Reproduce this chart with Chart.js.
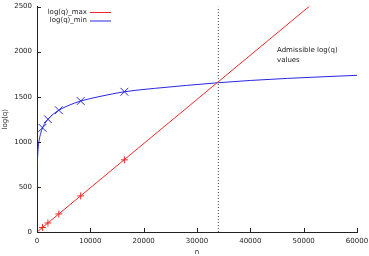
<!DOCTYPE html>
<html>
<head>
<meta charset="utf-8">
<script src="https://cdn.jsdelivr.net/npm/chart.js@4.4.1/dist/chart.umd.min.js"></script>
<style>
  html, body { margin: 0; padding: 0; background: #fff; }
  #wrap { width: 369px; height: 256px; }
</style>
</head>
<body>
<div id="wrap"><canvas id="qChart" width="369" height="256"></canvas></div>
<script>
// marker positions (powers of two)
const markerN = [1024, 2048, 4096, 8192, 16384];
const markerMax = [50, 100, 200, 400, 800];
const markerMin = [1155, 1250, 1350, 1452, 1555];

// log(q)_max straight line, runs off the top of the plot
const maxLineN = [0, 60000];
const maxLineQ = [0, 2940];

// log(q)_min curve
const minCurveN = [10, 30, 60, 100, 200, 400, 700, 1024, 1500, 2048, 3000, 4096, 6000, 8192, 12000, 16384, 22000, 28000, 34000, 40000, 47000, 54000, 60000];
const minCurveQ = [500, 650, 740, 815, 915, 1015, 1095, 1155, 1205, 1250, 1305, 1350, 1405, 1452, 1505, 1555, 1592, 1625, 1655, 1680, 1703, 1722, 1737];

// dotted bound
const boundN = [34000, 34000];
const boundQ = [0, 2500];

const xTicks = [0, 10000, 20000, 30000, 40000, 50000, 60000];
const yTicks = [0, 500, 1000, 1500, 2000, 2500];

const RED = 'rgb(238,40,40)';
const BLUE = 'rgb(40,40,225)';
const TEXT = '#222';
const FONT = "'DejaVu Sans', sans-serif";

function pairs(xs, ys) {
    return xs.map((x, i) => ({ x: x, y: ys[i] }));
}

// gnuplot style legend: text right aligned, line sample on the right
const keyPlugin = {
    id: 'gnuKey',
    afterDraw(chart) {
        const ctx = chart.ctx;
        ctx.save();
        ctx.font = '7px ' + FONT;
        ctx.textBaseline = 'middle';
        ctx.textAlign = 'right';
        let row = 0;
        chart.data.datasets.forEach(ds => {
            if (!ds.inKey) return;
            const y = 12 + row * 8.5;
            ctx.fillStyle = TEXT;
            ctx.fillText(ds.label, 87, y);
            ctx.strokeStyle = ds.borderColor;
            ctx.lineWidth = 1;
            ctx.beginPath();
            ctx.moveTo(90, y + 0.5);
            ctx.lineTo(111, y + 0.5);
            ctx.stroke();
            row++;
        });
        // label for the admissible region
        ctx.textAlign = 'left';
        ctx.fillStyle = TEXT;
        ctx.fillText('Admissible log(q)', 277, 50);
        ctx.fillText('values', 277, 60);
        ctx.restore();
    }
};

// inward tick marks
const tickPlugin = {
    id: 'inTicks',
    afterDatasetsDraw(chart) {
        const ctx = chart.ctx;
        const xs = chart.scales.x, ys = chart.scales.y;
        const area = chart.chartArea;
        ctx.save();
        ctx.strokeStyle = TEXT;
        ctx.lineWidth = 1;
        ctx.beginPath();
        xTicks.forEach(v => {
            const px = Math.round(xs.getPixelForValue(v)) + 0.5;
            ctx.moveTo(px, area.bottom);
            ctx.lineTo(px, area.bottom - 4);
        });
        yTicks.forEach(v => {
            const py = Math.round(ys.getPixelForValue(v)) + 0.5;
            ctx.moveTo(area.left, py);
            ctx.lineTo(area.left + 4, py);
        });
        ctx.stroke();
        ctx.restore();
    }
};

const ctx = document.getElementById('qChart').getContext('2d');
const chart = new Chart(ctx, {
    type: 'scatter',
    data: {
        datasets: [
            {
                label: 'log(q)_max',
                inKey: true,
                data: pairs(maxLineN, maxLineQ),
                showLine: true,
                borderColor: RED,
                borderWidth: 1,
                pointRadius: 0
            },
            {
                label: 'log(q)_min',
                inKey: true,
                data: pairs(minCurveN, minCurveQ),
                showLine: true,
                borderColor: BLUE,
                borderWidth: 1,
                pointRadius: 0,
                cubicInterpolationMode: 'monotone'
            },
            {
                label: 'max points',
                data: pairs(markerN, markerMax),
                pointStyle: 'cross',
                pointRadius: 3.5,
                borderColor: RED,
                borderWidth: 1
            },
            {
                label: 'min points',
                data: pairs(markerN, markerMin),
                pointStyle: 'crossRot',
                pointRadius: 5.5,
                borderColor: BLUE,
                borderWidth: 1
            },
            {
                label: 'bound',
                data: pairs(boundN, boundQ),
                showLine: true,
                borderColor: '#444',
                borderWidth: 1,
                borderDash: [1, 2],
                pointRadius: 0
            }
        ]
    },
    options: {
        responsive: false,
        animation: false,
        layout: { padding: { top: 5, right: 12, left: 0, bottom: 0 } },
        plugins: {
            legend: { display: false },
            tooltip: { enabled: false }
        },
        scales: {
            x: {
                type: 'linear',
                min: 0,
                max: 60000,
                afterBuildTicks: s => { s.ticks = xTicks.map(v => ({ value: v })); },
                afterFit: s => { s.height = 24; s.paddingLeft = 0; s.paddingRight = 0; },
                grid: { display: false, drawTicks: false },
                border: { display: true, color: TEXT, width: 1 },
                ticks: { color: TEXT, font: { family: FONT, size: 7 }, padding: 5, maxRotation: 0, callback: v => String(v) },
                title: { display: true, text: 'n', color: TEXT, font: { family: FONT, size: 7 }, padding: 0 }
            },
            y: {
                type: 'linear',
                min: 0,
                max: 2500,
                afterBuildTicks: s => { s.ticks = yTicks.map(v => ({ value: v })); },
                afterFit: s => { s.width = 37; s.paddingTop = 0; s.paddingBottom = 0; },
                grid: { display: false, drawTicks: false },
                border: { display: true, color: TEXT, width: 1 },
                ticks: { color: TEXT, font: { family: FONT, size: 7 }, padding: 5, callback: v => String(v) },
                title: { display: true, text: 'log(q)', color: TEXT, font: { family: FONT, size: 7 }, padding: { top: 1, bottom: 0 } }
            }
        }
    },
    plugins: [tickPlugin, keyPlugin]
});
</script>
</body>
</html>
